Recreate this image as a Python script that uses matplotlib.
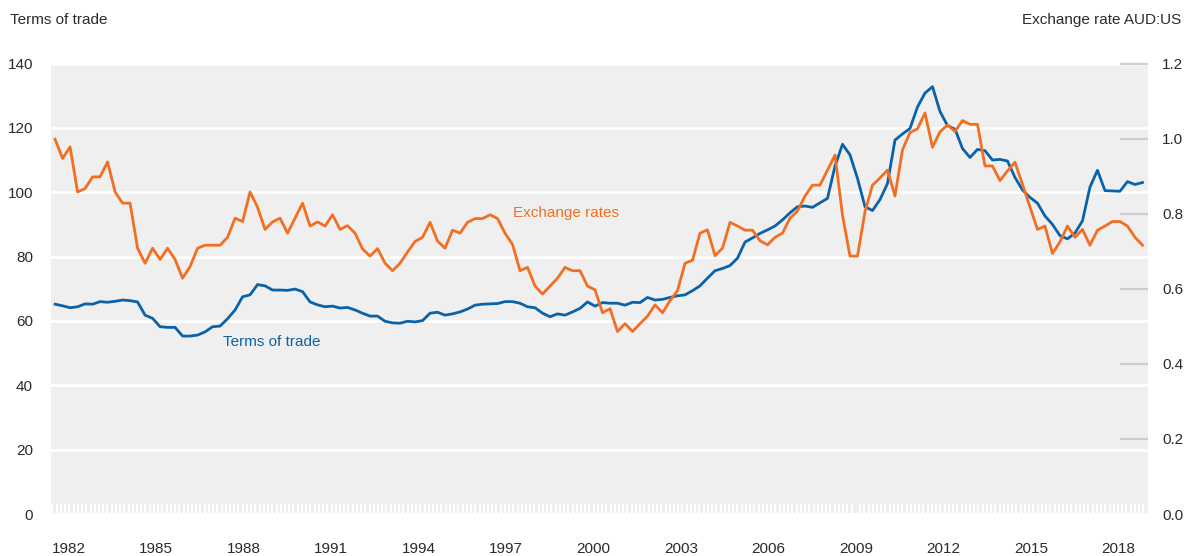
import numpy as np
import matplotlib.pyplot as plt
from matplotlib import font_manager

# terms of trade index (left axis)
tot = [65.2, 64.7, 64.1, 64.4, 65.3, 65.2, 66.0, 65.8, 66.1, 66.5,
       66.3, 65.9, 61.8, 60.8, 58.2, 58.0, 58.0, 55.3, 55.3, 55.6,
       56.6, 58.2, 58.4, 60.7, 63.4, 67.5, 68.1, 71.3, 70.9, 69.6,
       69.6, 69.5, 69.9, 69.1, 65.9, 65.0, 64.4, 64.6, 64.0, 64.2,
       63.4, 62.4, 61.5, 61.5, 59.9, 59.4, 59.3, 59.9, 59.7, 60.1,
       62.4, 62.7, 61.8, 62.2, 62.8, 63.7, 64.9, 65.2, 65.3, 65.4,
       66.0, 66.0, 65.5, 64.4, 64.1, 62.4, 61.3, 62.2, 61.8, 62.8,
       63.9, 65.9, 64.6, 65.7, 65.5, 65.5, 64.9, 65.8, 65.7, 67.3,
       66.5, 66.7, 67.3, 67.8, 68.1, 69.4, 70.9, 73.3, 75.6, 76.3,
       77.2, 79.5, 84.5, 85.8, 87.2, 88.3, 89.5, 91.4, 93.6, 95.5,
       95.7, 95.3, 96.7, 98.1, 108.1, 114.9, 111.6, 104.3, 95.5, 94.3,
       97.7, 102.7, 116.2, 118.1, 119.8, 126.5, 130.8, 132.8, 125.1, 120.7,
       119.6, 113.6, 110.8, 113.3, 112.9, 110.0, 110.2, 109.7, 104.6, 100.7,
       98.4, 96.6, 92.6, 90.0, 86.5, 85.5, 87.3, 91.1, 101.6, 106.8,
       100.5, 100.4, 100.3, 103.3, 102.4, 103.0]

# AUD:USD exchange rate (right axis)
aud = [0.998, 0.947, 0.978, 0.858, 0.867, 0.898, 0.898, 0.938, 0.858, 0.828,
       0.828, 0.708, 0.668, 0.708, 0.678, 0.708, 0.678, 0.628, 0.659, 0.708,
       0.716, 0.716, 0.716, 0.737, 0.788, 0.779, 0.858, 0.817, 0.758, 0.778,
       0.788, 0.748, 0.788, 0.828, 0.767, 0.778, 0.767, 0.797, 0.758, 0.768,
       0.748, 0.706, 0.687, 0.707, 0.668, 0.648, 0.668, 0.698, 0.726, 0.737,
       0.777, 0.727, 0.708, 0.756, 0.748, 0.777, 0.787, 0.787, 0.797, 0.787,
       0.748, 0.718, 0.648, 0.657, 0.607, 0.586, 0.607, 0.628, 0.657, 0.648,
       0.648, 0.607, 0.597, 0.536, 0.547, 0.486, 0.507, 0.486, 0.507, 0.527,
       0.557, 0.536, 0.568, 0.595, 0.668, 0.676, 0.748, 0.757, 0.688, 0.708,
       0.777, 0.767, 0.756, 0.756, 0.728, 0.717, 0.737, 0.748, 0.788, 0.807,
       0.847, 0.876, 0.876, 0.916, 0.956, 0.796, 0.687, 0.687, 0.805, 0.876,
       0.895, 0.916, 0.847, 0.970, 1.016, 1.026, 1.068, 0.977, 1.018, 1.036,
       1.019, 1.048, 1.038, 1.038, 0.927, 0.927, 0.888, 0.914, 0.937, 0.878,
       0.818, 0.758, 0.767, 0.694, 0.725, 0.767, 0.737, 0.758, 0.716, 0.756,
       0.767, 0.779, 0.779, 0.767, 0.737, 0.716]

year_ticks = list(range(1982, 2019, 3))
tot_ticks = list(range(0, 141, 20))
aud_ticks = [0.0, 0.2, 0.4, 0.6, 0.8, 1.0, 1.2]

names = {f.name for f in font_manager.fontManager.ttflist}
fam = 'Liberation Sans Narrow' if 'Liberation Sans Narrow' in names else 'Liberation Sans'
plt.rcParams['font.family'] = [fam, 'DejaVu Sans']

blue = '#0a62a8'
orange = '#f26f22'
txt = '#2b2b2b'
fs = 11

x = np.linspace(1981.54, 2018.83, len(tot))

fig = plt.figure(figsize=(11.88, 5.56), dpi=100)
ax = fig.add_axes([51 / 1188, 42 / 556, 1097 / 1188, 450.5 / 556])
ax.set_facecolor('#efefef')
for s in ax.spines.values():
    s.set_visible(False)

ax.set_xlim(1981.40, 2019.02)
ax.set_ylim(0, 140)
ax.set_yticks(tot_ticks)
ax.grid(axis='y', color='white', lw=1.8)
ax.set_axisbelow(True)
ax.tick_params(axis='y', length=0, pad=13, labelsize=fs, labelcolor=txt)

ax.set_xticks(year_ticks)
ax.set_xticklabels([str(y) for y in year_ticks])
# fine white comb along the bottom edge
ax.set_xticks(np.arange(1981.45, 2019.0, 0.145), minor=True)
ax.tick_params(axis='x', which='major', length=0, pad=20, labelsize=fs, labelcolor=txt)
ax.tick_params(axis='x', which='minor', direction='in', length=7, width=1.4, color='white')

ax.plot(x, tot, color=blue, lw=2)

ax2 = ax.twinx()
for s in ax2.spines.values():
    s.set_visible(False)
ax2.set_ylim(0, 1.2)
ax2.set_yticks(aud_ticks)
ax2.set_yticklabels(['%.1f' % v for v in aud_ticks])
ax2.tick_params(axis='y', direction='in', length=20, width=1.6, color='#cdcdcd',
                pad=10, labelsize=fs, labelcolor=txt)
ax2.yaxis.get_major_ticks()[0].tick2line.set_visible(False)
ax2.plot(x, aud, color=orange, lw=2)

ax.text(1997.25, 93.5, 'Exchange rates', color=orange, fontsize=fs, va='center')
ax.text(1987.3, 53.4, 'Terms of trade', color=blue, fontsize=fs, va='center')

fig.text(10 / 1188, 1 - 20 / 556, 'Terms of trade', fontsize=fs, color=txt, va='center')
fig.text(1181 / 1188, 1 - 20 / 556, 'Exchange rate AUD:US', fontsize=fs, color=txt,
         va='center', ha='right')

fig.savefig('out.png', dpi=100)
